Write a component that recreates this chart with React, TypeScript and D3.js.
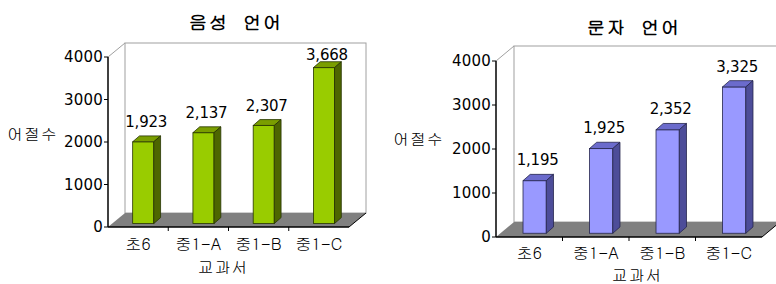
import * as d3 from "d3";

const categories = ["초6", "중1-A", "중1-B", "중1-C"];
const spokenValues = [1923, 2137, 2307, 3668];
const writtenValues = [1195, 1925, 2352, 3325];
const yTicks = [0, 1000, 2000, 3000, 4000];
const yLabel = "어절수";
const xLabel = "교과서";

const KR = "'Gulim', 'Noto Sans CJK KR', sans-serif";
const NUM = "'DejaVu Sans', sans-serif";

type Layout = {
  x0: number;
  x1: number;
  y0: number;
  y1: number;
  dx: number;
  dy: number;
  titleX: number;
  titleY: number;
  yLabelX: number;
  yLabelY: number;
  xLabelX: number;
  xLabelY: number;
  catY: number;
};

type Colors = { front: string; top: string; side: string; edge: string };

const leftLayout: Layout = {
  x0: 108, x1: 349, y0: 227, y1: 57, dx: 17, dy: -14,
  titleX: 236, titleY: 21, yLabelX: 7, yLabelY: 133,
  xLabelX: 223, xLabelY: 266, catY: 243,
};

const rightLayout: Layout = {
  x0: 496, x1: 762, y0: 237, y1: 61, dx: 18, dy: -15,
  titleX: 634, titleY: 26, yLabelX: 393, yLabelY: 138,
  xLabelX: 637, xLabelY: 274, catY: 252,
};

const green: Colors = { front: "#99cc00", top: "#7a9e00", side: "#4d6600", edge: "#263300" };
const blue: Colors = { front: "#9999ff", top: "#6b6bcc", side: "#4d4d99", edge: "#26264d" };

const fmt = d3.format(",");

function Panel({ title, values, L, c }: { title: string; values: number[]; L: Layout; c: Colors }) {
  const x = d3.scaleBand<string>().domain(categories).range([L.x0, L.x1]);
  const y = d3.scaleLinear().domain([0, 4000]).range([L.y0, L.y1]);
  const bw = x.bandwidth() * 0.35;
  const fdx = L.dx * 0.3;
  const fdy = L.dy * 0.25;
  const bdx = L.dx * 0.4;
  const bdy = L.dy * 0.42;
  const wallTop = L.y1 + L.dy;

  return (
    <g>
      {/* back wall */}
      <rect
        x={L.x0 + L.dx}
        y={L.y1 + L.dy}
        width={L.x1 - L.x0}
        height={L.y0 - L.y1}
        fill="#fff"
        stroke="#a0a0a0"
      />
      <line x1={L.x0} y1={L.y1} x2={L.x0 + L.dx} y2={L.y1 + L.dy} stroke="#a0a0a0" />
      {/* floor */}
      <polygon
        points={`${L.x0},${L.y0} ${L.x1},${L.y0} ${L.x1 + L.dx},${L.y0 + L.dy} ${L.x0 + L.dx},${L.y0 + L.dy}`}
        fill="#808080"
      />
      <line x1={L.x1} y1={L.y0} x2={L.x1 + L.dx} y2={L.y0 + L.dy} stroke="#000" />
      {/* axes */}
      <line x1={L.x0} y1={L.y1} x2={L.x0} y2={L.y0} stroke="#000" strokeWidth={1.5} />
      <line x1={L.x0} y1={L.y0} x2={L.x1} y2={L.y0} stroke="#000" strokeWidth={1.5} />
      {yTicks.map((t) => (
        <g key={t}>
          <line x1={L.x0 - 4} x2={L.x0} y1={y(t)} y2={y(t)} stroke="#000" />
          <text
            x={L.x0 - 5}
            y={y(t)}
            textAnchor="end"
            dominantBaseline="central"
            fontFamily={NUM}
            fontSize={15}
            letterSpacing={0.2}
            fill="#000"
          >
            {t}
          </text>
        </g>
      ))}
      {categories.slice(1).map((cat) => (
        <line key={cat} x1={x(cat)!} x2={x(cat)!} y1={L.y0} y2={L.y0 + 4} stroke="#000" />
      ))}
      {/* bars */}
      {values.map((v, i) => {
        const cat = categories[i];
        const xl = x(cat)! + (x.bandwidth() - bw) / 2 + fdx;
        const yt = y(v) + fdy;
        const yb = L.y0 + fdy;
        const xr = xl + bw;
        const labelY = Math.max(yt + bdy - 9, wallTop + 17);
        return (
          <g key={cat}>
            <rect x={xl} y={yt} width={bw} height={yb - yt} fill={c.front} stroke={c.edge} strokeWidth={0.8} />
            <polygon
              points={`${xl},${yt} ${xr},${yt} ${xr + bdx},${yt + bdy} ${xl + bdx},${yt + bdy}`}
              fill={c.top}
              stroke={c.edge}
              strokeWidth={0.8}
            />
            <polygon
              points={`${xr},${yt} ${xr + bdx},${yt + bdy} ${xr + bdx},${yb + bdy} ${xr},${yb}`}
              fill={c.side}
              stroke={c.edge}
              strokeWidth={0.8}
            />
            <text
              x={xl + bw / 2 + 3}
              y={labelY}
              textAnchor="middle"
              fontFamily={NUM}
              fontSize={15}
              letterSpacing={-0.2}
              fill="#000"
            >
              {fmt(v)}
            </text>
            <text
              x={x(cat)! + x.bandwidth() / 2}
              y={L.catY}
              textAnchor="middle"
              dominantBaseline="central"
              fontFamily={KR}
              fontSize={16}
              fill="#000"
            >
              {cat}
            </text>
          </g>
        );
      })}
      <text
        x={L.titleX}
        y={L.titleY}
        textAnchor="middle"
        dominantBaseline="central"
        fontFamily={KR}
        fontWeight="bold"
        fontSize={18}
        letterSpacing={2}
        wordSpacing={6}
        fill="#000"
      >
        {title}
      </text>
      <text
        x={L.yLabelX}
        y={L.yLabelY}
        dominantBaseline="central"
        fontFamily={KR}
        fontSize={16}
        letterSpacing={1}
        fill="#000"
      >
        {yLabel}
      </text>
      <text
        x={L.xLabelX}
        y={L.xLabelY}
        textAnchor="middle"
        dominantBaseline="central"
        fontFamily={KR}
        fontSize={16}
        letterSpacing={1}
        fill="#000"
      >
        {xLabel}
      </text>
    </g>
  );
}

export default function App() {
  return (
    <svg
      width={776}
      height={284}
      style={{ position: "absolute", left: 0, top: 0, background: "#fff" }}
    >
      <Panel title="음성 언어" values={spokenValues} L={leftLayout} c={green} />
      <Panel title="문자 언어" values={writtenValues} L={rightLayout} c={blue} />
    </svg>
  );
}
